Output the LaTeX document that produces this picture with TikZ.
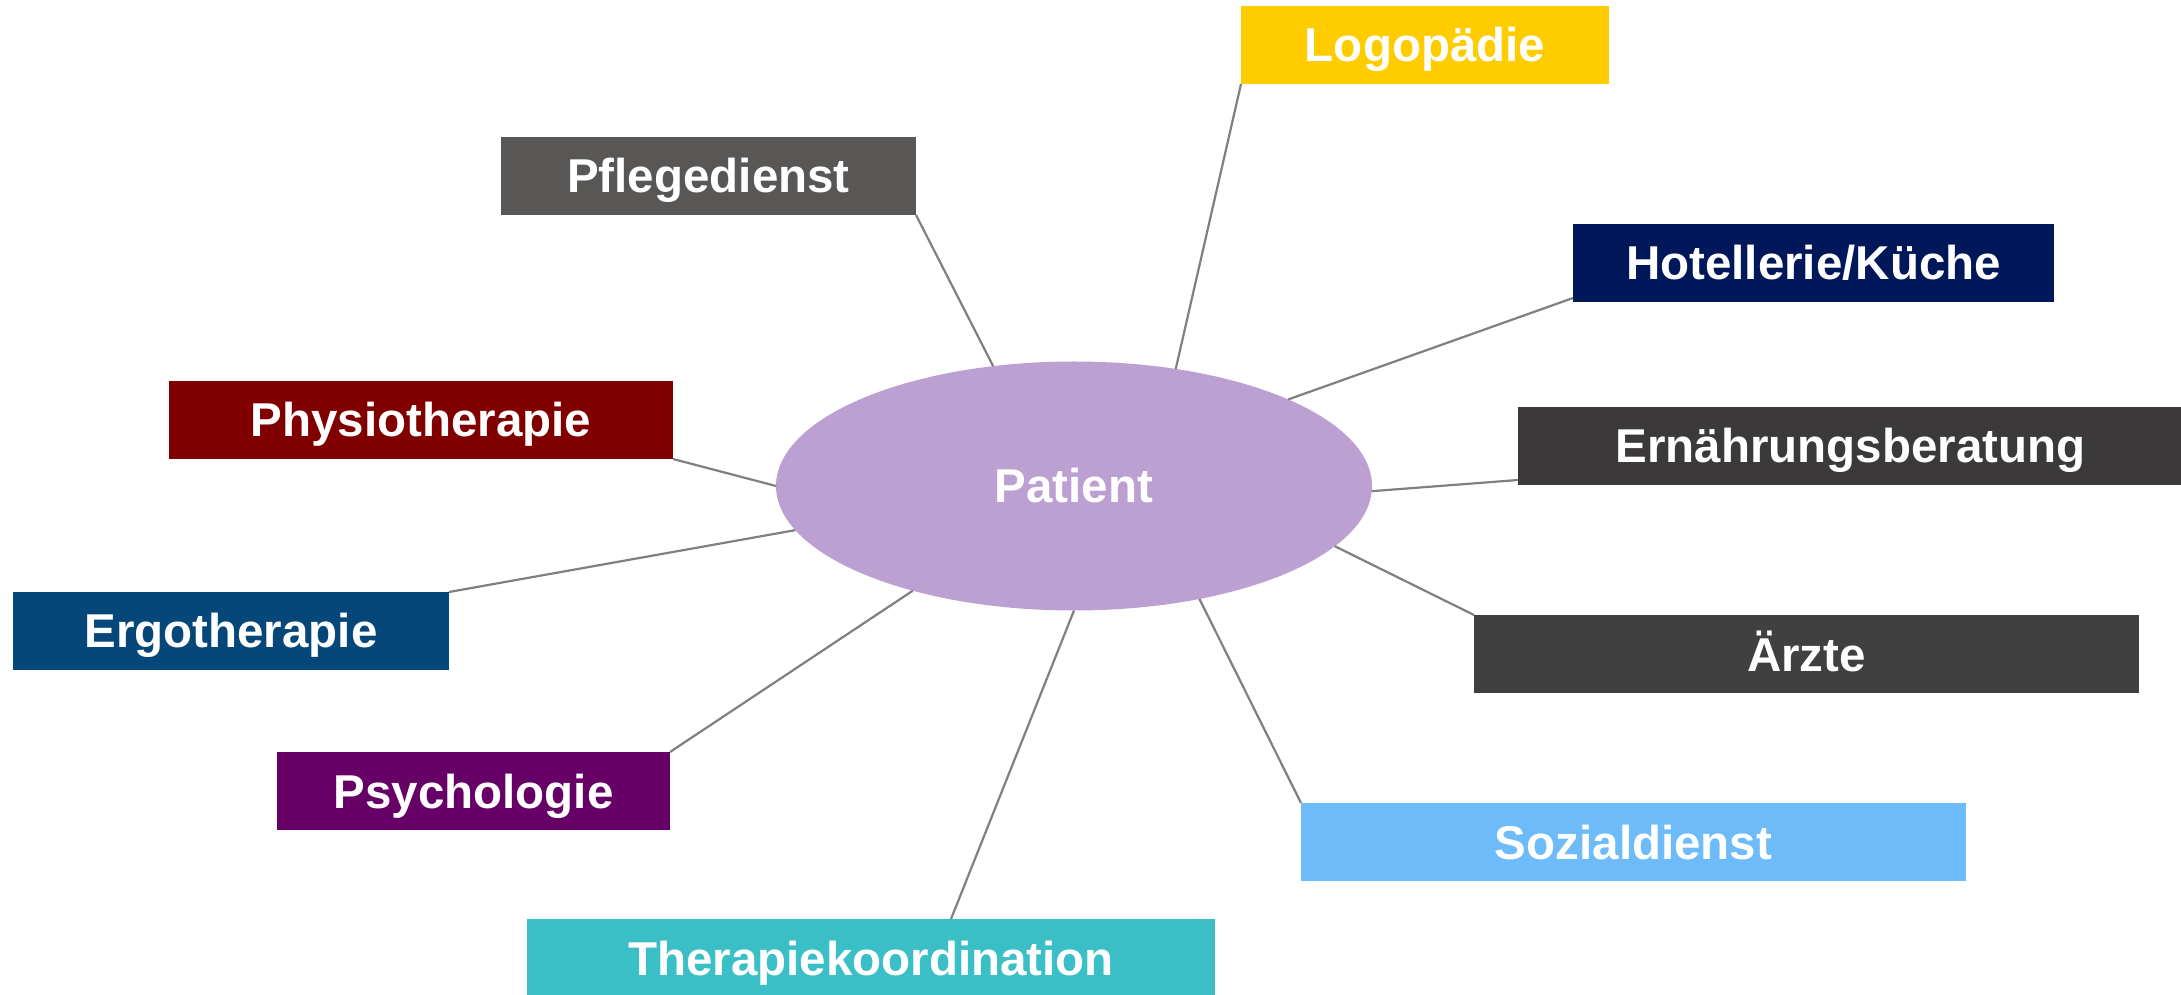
\documentclass[tikz,border=0pt]{standalone}
\usepackage{fontspec}
\setmainfont{Liberation Sans}
\usetikzlibrary{shapes.geometric}

\definecolor{cLogo}{RGB}{255,204,0}
\definecolor{cPfleg}{RGB}{88,87,86}
\definecolor{cHotel}{RGB}{0,24,90}
\definecolor{cPhysio}{RGB}{128,0,0}
\definecolor{cErnahr}{RGB}{59,57,58}
\definecolor{cErgo}{RGB}{6,71,122}
\definecolor{cAerzte}{RGB}{64,64,64}
\definecolor{cPsych}{RGB}{102,0,102}
\definecolor{cSozial}{RGB}{109,187,248}
\definecolor{cTherapie}{RGB}{59,191,198}
\definecolor{cPatient}{RGB}{188,160,210}
\definecolor{linegray}{RGB}{128,128,128}

\newcommand\boxfont{\fontsize{47.5}{50}\selectfont\bfseries}

\begin{document}
\begin{tikzpicture}[x=1pt,y=1pt,
  box/.style={rectangle, minimum height=78pt, inner sep=0pt, outer sep=0pt,
    text=white, font=\boxfont, text height=34pt, text depth=0pt},
  link/.style={draw=linegray, line width=2.2pt}]
\useasboundingbox (0,0) rectangle (2181,994);
\fill[white] (0,0) rectangle (2181,994);

% centre
\node[ellipse, fill=cPatient, minimum width=596pt, minimum height=249pt,
  inner sep=0pt, outer sep=0pt, text=white, font=\boxfont,
  text height=34pt, text depth=0pt] (patient) at (1074,508) {Patient};

% surrounding services
\node[box, fill=cLogo,     minimum width=368pt] (logo)     at (1425,949)   {Logopädie};
\node[box, fill=cPfleg,    minimum width=415pt] (pfleg)    at (708.5,818)  {Pflegedienst};
\node[box, fill=cHotel,    minimum width=481pt] (hotel)    at (1813.5,731) {Hotellerie/Küche};
\node[box, fill=cPhysio,   minimum width=504pt] (physio)   at (421,574)    {Physiotherapie};
\node[box, fill=cErnahr,   minimum width=665pt] (ernahr)   at (1850.5,548) {Ernährungsberatung};
\node[box, fill=cErgo,     minimum width=436pt] (ergo)     at (231,363)    {Ergotherapie};
\node[box, fill=cAerzte,   minimum width=665pt] (aerzte)   at (1806.5,340) {Ärzte};
\node[box, fill=cPsych,    minimum width=393pt] (psych)    at (473.5,203)  {Psychologie};
\node[box, fill=cSozial,   minimum width=665pt] (sozial)   at (1633.5,152) {Sozialdienst};
\node[box, fill=cTherapie, minimum width=688pt] (therapie) at (871,36)     {Therapiekoordination};

% connectors
\draw[link] (pfleg.south east) -- (patient.124.3);
\draw[link] (logo.south west) -- (patient.49.7);
\draw[link] ([yshift=4pt]hotel.south west) -- (patient.22.8);
\draw[link] (physio.south east) -- (patient.180);
\draw[link] ([yshift=5pt]ernahr.south west) -- (patient.359);
\draw[link] (ergo.north east) -- (patient.189.8);
\draw[link] (aerzte.north west) -- (patient.347.8);
\draw[link] (psych.north east) -- (patient.213.3);
\draw[link] (sozial.north west) -- (patient.318.1);
\draw[link] ([xshift=80pt]therapie.north) -- (patient.270);
\end{tikzpicture}
\end{document}
